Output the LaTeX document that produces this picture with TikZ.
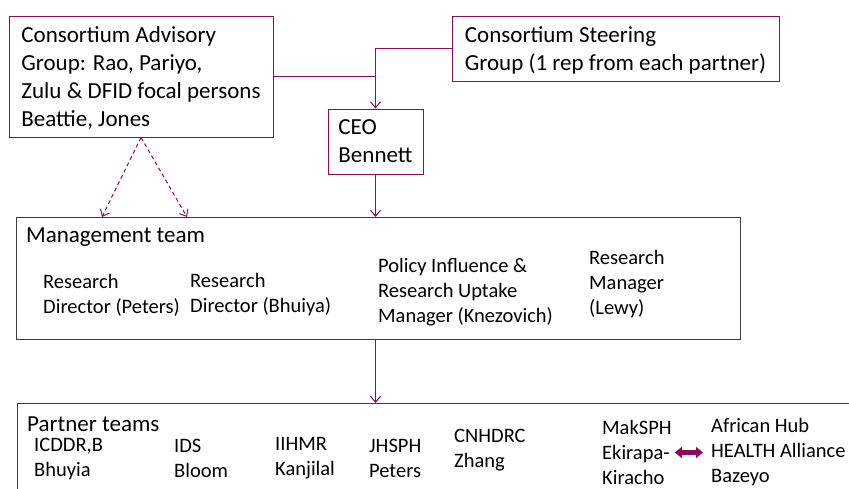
\documentclass[tikz,border=0pt]{standalone}
\usepackage{fontspec}
\setmainfont{Carlito}
\usetikzlibrary{arrows.meta}
\definecolor{plum}{RGB}{140,10,90}
\definecolor{frame}{RGB}{60,60,60}

\begin{document}
\begin{tikzpicture}[
    x=1pt, y=-1pt,
    group/.style={rectangle, draw=plum, line width=0.9pt, align=left, inner xsep=9pt, inner ysep=0pt, text depth=0pt, font=\fontsize{23}{28}\selectfont},
    team/.style={rectangle, draw=frame, line width=1.2pt, anchor=north west, inner sep=0pt},
    head/.style={inner sep=0pt, anchor=west, font=\fontsize{23}{28}\selectfont},
    item/.style={inner sep=0pt, anchor=west, align=left, font=\fontsize{20.5}{25}\selectfont},
    arrow/.style={-{Straight Barb[length=6pt,width=10pt]}, draw=plum, line width=1pt},
    advice/.style={arrow, dash pattern=on 4pt off 3pt},
    link/.style={draw=plum, line width=1pt},
    swap/.style={{Triangle[length=7pt,width=11pt]}-{Triangle[length=7pt,width=11pt]}, draw=plum, line width=4.5pt}
]
    \clip (0,0) rectangle (849,489);

    % Governance
    \node[group, minimum width=264, minimum height=121] (adv) at (141,76.5)
        {Consortium Advisory\\Group: Rao, Pariyo,\\Zulu \& DFID focal persons\\Beattie, Jones};
    \node[group, minimum width=327, minimum height=65] (steer) at (615.5,48.5)
        {Consortium Steering\\Group (1 rep from each partner)};
    \node[group, minimum width=95, minimum height=65] (ceo) at (375.5,141.5)
        {CEO\\Bennett};

    % Management team
    \node[team, minimum width=724, minimum height=122] (mgmt) at (16,217) {};
    \node[head] (mtitle) at (26,237) {Management team};
    \node[item] (rd1) at (43,295) {Research\\Director (Peters)};
    \node[item] (rd2) at (190,295) {Research\\Director (Bhuiya)};
    \node[item] (pirum) at (378,292) {Policy Influence \&\\Research Uptake\\Manager (Knezovich)};
    \node[item] (rm) at (589,284) {Research\\Manager\\(Lewy)};

    % Partner teams
    \node[team, draw=plum, line width=0.9pt, minimum width=860, minimum height=110] (partners) at (17,403) {};
    \node[head] (ptitle) at (27,424) {Partner teams};
    \node[item] (icddrb) at (34,458.5) {ICDDR,B\\Bhuyia};
    \node[item] (ids) at (174,458.5) {IDS\\Bloom};
    \node[item] (iihmr) at (275,458.5) {IIHMR\\Kanjilal};
    \node[item] (jhsph) at (369,458.5) {JHSPH\\Peters};
    \node[item] (cnhdrc) at (454,450.5) {CNHDRC\\Zhang};
    \node[item] (maksph) at (602,452.5) {MakSPH\\Ekirapa-\\Kiracho};
    \node[item] (hub) at (711,452.5) {African Hub\\HEALTH Alliance\\Bazeyo};

    % Lines of report
    \coordinate (d1) at (102,217);
    \coordinate (d2) at (187,217);
    \draw[link] (adv.east) -- (adv.east -| ceo.north);
    \draw[arrow] (steer.west) -| (ceo.north);
    \draw[arrow] (ceo.south) -- (ceo.south |- mgmt.north);
    \draw[advice] (adv.south) -- (d1);
    \draw[advice] (adv.south) -- (d2);
    \draw[arrow] (ceo.south |- mgmt.south) -- (ceo.south |- partners.north);
    \draw[swap, shorten <=3pt, shorten >=8pt] (maksph.east) -- (hub.west);
\end{tikzpicture}
\end{document}
